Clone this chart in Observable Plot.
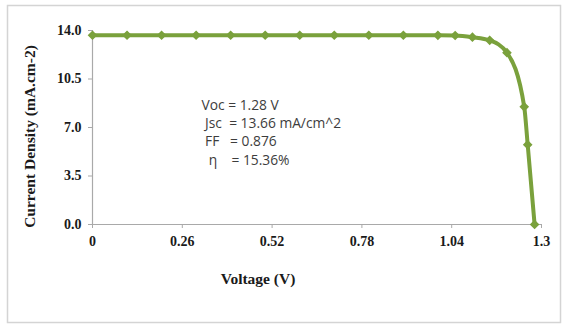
<!DOCTYPE html>
<html>
<head>
<meta charset="utf-8">
<script src="https://cdn.jsdelivr.net/npm/d3@7"></script>
<script src="https://cdn.jsdelivr.net/npm/@observablehq/plot@0.6"></script>
<style>
  html, body { margin: 0; padding: 0; background: #fff; }
  #chart { width: 566px; height: 327px; }
</style>
</head>
<body>
<div id="chart"></div>
<script>
const voltage = [0, 0.1, 0.2, 0.3, 0.4, 0.5, 0.6, 0.7, 0.8, 0.9, 1.0, 1.05, 1.1, 1.15, 1.2, 1.25, 1.26, 1.28];
const currentDensity = [13.66, 13.66, 13.66, 13.66, 13.66, 13.66, 13.66, 13.66, 13.66, 13.66, 13.65, 13.64, 13.52, 13.29, 12.4, 8.49, 5.76, 0];
const xTicks = [0, 0.26, 0.52, 0.78, 1.04, 1.3];
const xTickLabels = ["0", "0.26", "0.52", "0.78", "1.04", "1.3"];
const yTicks = [0, 3.5, 7, 10.5, 14];
const yTickLabels = ["0.0", "3.5", "7.0", "10.5", "14.0"];
const annotationLines = [
  "Voc = 1.28 V",
  "\u00a0Jsc\u00a0 = 13.66 mA/cm^2",
  "\u00a0FF\u00a0\u00a0 = 0.876",
  "\u00a0\u00a0η\u00a0\u00a0\u00a0 = 15.36%"
];

const data = voltage.map((v, i) => ({v, j: currentDensity[i]}));
const green = "#7aa13c";
const axisGray = "#a9a9a9";
const serif = "'Liberation Serif', 'Times New Roman', serif";

const chart = Plot.plot({
  width: 566,
  height: 327,
  marginLeft: 92,
  marginRight: 25,
  marginTop: 30,
  marginBottom: 103,
  style: {fontFamily: serif, fontSize: "14px", fontWeight: "bold", color: "#1a1a1a", background: "#fff"},
  x: {domain: [0, 1.3], ticks: xTicks, tickFormat: (d, i) => xTickLabels[i], label: null},
  y: {domain: [0, 14], ticks: yTicks, tickFormat: (d, i) => yTickLabels[i], label: null},
  marks: [
    Plot.ruleY([0], {stroke: axisGray, strokeWidth: 1.2}),
    Plot.ruleX([0], {stroke: axisGray, strokeWidth: 1.2}),
    Plot.axisX({ticks: xTicks, tickFormat: (d, i) => xTickLabels[i], tickSize: 4, tickPadding: 8, stroke: axisGray, label: null}),
    Plot.axisY({ticks: yTicks, tickFormat: (d, i) => yTickLabels[i], tickSize: 4, tickPadding: 7, stroke: axisGray, label: null}),
    Plot.line(data, {x: "v", y: "j", stroke: green, strokeWidth: 4, curve: "monotone-x"}),
    Plot.dot(data, {x: "v", y: "j", symbol: "diamond2", r: 3.4, fill: green, stroke: green}),
    Plot.text([annotationLines.join("\n")], {frameAnchor: "top-left", dx: 109, dy: 66, lineAnchor: "top", lineHeight: 1.33, textAnchor: "start", fontFamily: "'Open Sans', sans-serif", fontWeight: "normal", fontSize: 13.8, fill: "#3d3d3d", style: "white-space: pre"}),
    Plot.text(["Voltage (V)"], {frameAnchor: "bottom", dx: -59, dy: 59, fontFamily: serif, fontWeight: "bold", fontSize: 15.5, fill: "#1a1a1a"}),
    Plot.text(["Current Density (mA.cm-2)"], {frameAnchor: "left", textAnchor: "middle", dx: -62, dy: 9, rotate: -90, fontFamily: serif, fontWeight: "bold", fontSize: 15.5, fill: "#1a1a1a"})
  ]
});

document.getElementById("chart").appendChild(chart);

// outer light-gray frame of the original figure
d3.select(chart).insert("rect", ":first-child")
  .attr("x", 7.5).attr("y", 5.5).attr("width", 553).attr("height", 317)
  .attr("fill", "none").attr("stroke", "#d4d4d4").attr("stroke-width", 1.5);
</script>
</body>
</html>
